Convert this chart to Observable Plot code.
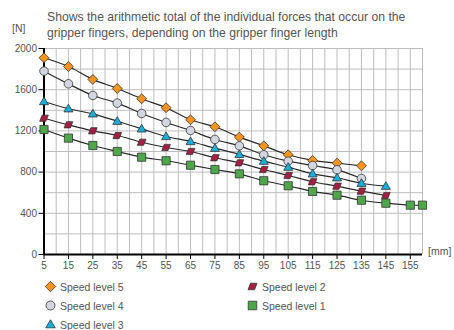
<!DOCTYPE html>
<html>
<head>
<meta charset="utf-8">
<script src="https://cdn.jsdelivr.net/npm/d3@7"></script>
<script src="https://cdn.jsdelivr.net/npm/@observablehq/plot@0.6"></script>
<style>
  body { margin: 0; background: #fff; font-family: "Liberation Sans", Arial, sans-serif; color: #555; }
  #wrap { position: relative; width: 454px; height: 330px; overflow: hidden; }
  #chart { position: absolute; left: 0; top: 0; }
  .t { position: absolute; white-space: nowrap; }
  #title { left: 47px; top: 9px; font-size: 12.2px; line-height: 16px; color: #555; }
  #unitN { left: 12px; top: 22px; font-size: 10.5px; color: #555; }
  #unitMM { left: 428px; top: 245px; font-size: 10.5px; color: #555; }
  .leg { position: absolute; font-size: 10.5px; color: #555; display: flex; align-items: center; white-space: nowrap; }
  .leg svg { margin-right: 3px; }
</style>
</head>
<body>
<div id="wrap">
  <div id="chart"></div>
  <div id="title" class="t">Shows the arithmetic total of the individual forces that occur on the<br>gripper fingers, depending on the gripper finger length</div>
  <div id="unitN" class="t">[N]</div>
  <div id="unitMM" class="t">[mm]</div>
  <div id="legend"></div>
</div>
<script>
// ---- data ----
const lengths5 = [5,15,25,35,45,55,65,75,85,95,105,115,125,135];
const level5 = [1910,1825,1700,1612,1512,1425,1308,1240,1140,1055,968,913,887,861];
const lengths4 = [5,15,25,35,45,55,65,75,85,95,105,115,125,135];
const level4 = [1780,1657,1544,1470,1369,1282,1204,1117,1055,968,906,864,822,738];
const lengths3 = [5,15,25,35,45,55,65,75,85,95,105,115,125,135,145];
const level3 = [1485,1415,1366,1294,1220,1146,1097,1032,972,906,848,783,745,692,663];
const lengths2 = [5,15,25,35,45,55,65,75,85,95,105,115,125,135,145];
const level2 = [1323,1259,1201,1155,1090,1039,1000,939,890,825,767,706,663,615,573];
const lengths1 = [5,15,25,35,45,55,65,75,85,95,105,115,125,135,145,155,160];
const level1 = [1214,1130,1058,1000,945,910,867,825,783,716,667,612,576,527,498,479,479];
const seriesNames = ["Speed level 5","Speed level 4","Speed level 3","Speed level 2","Speed level 1"];
const xTicks = [5,15,25,35,45,55,65,75,85,95,105,115,125,135,145,155];
const yTicks = [0,400,800,1200,1600,2000];

// ---- symbols ----
const symDiamond = {draw(c, size){ const r = Math.sqrt(size/Math.PI)*1.15; c.moveTo(0,-r); c.lineTo(r,0); c.lineTo(0,r); c.lineTo(-r,0); c.closePath(); }};
const symCircle = {draw(c, size){ const r = Math.sqrt(size/Math.PI); c.moveTo(r,0); c.arc(0,0,r,0,2*Math.PI); c.closePath(); }};
const symTriangle = {draw(c, size){ const r = Math.sqrt(size/Math.PI)*1.05; c.moveTo(0,-r); c.lineTo(r,r*0.7); c.lineTo(-r,r*0.7); c.closePath(); }};
const symPara = {draw(c, size){ const r = Math.sqrt(size/Math.PI); const h = r*0.72; c.moveTo(-r*0.45,-h); c.lineTo(r,-h); c.lineTo(r*0.45,h); c.lineTo(-r,h); c.closePath(); }};
const symSquare = {draw(c, size){ const r = Math.sqrt(size/Math.PI)*0.95; c.rect(-r,-r,2*r,2*r); }};

const styles = [
  {name: seriesNames[0], xs: lengths5, ys: level5, fill: "#f7941d", symbol: symDiamond},
  {name: seriesNames[1], xs: lengths4, ys: level4, fill: "#d3d5df", symbol: symCircle},
  {name: seriesNames[2], xs: lengths3, ys: level3, fill: "#17b0dc", symbol: symTriangle},
  {name: seriesNames[3], xs: lengths2, ys: level2, fill: "#a81d42", symbol: symPara},
  {name: seriesNames[4], xs: lengths1, ys: level1, fill: "#4ea84b", symbol: symSquare}
];

const rows = [];
styles.forEach(s => s.xs.forEach((x, i) => rows.push({series: s.name, x, y: s.ys[i]})));

const gridX = d3.range(5, 161, 5);
const gridY = d3.range(0, 2001, 200);

const marks = [
  Plot.ruleX(gridX, {stroke: "#bdbdbd", strokeWidth: 1}),
  Plot.ruleY(gridY, {stroke: "#bdbdbd", strokeWidth: 1}),
  Plot.axisX({ticks: xTicks, tickSize: 5, tickPadding: 2, stroke: "#000", fontSize: 10, fill: "#555", label: null, tickFormat: d => String(d)}),
  Plot.axisY({ticks: yTicks, tickSize: 5, tickPadding: 2, stroke: "#000", fontSize: 10, fill: "#555", label: null, tickFormat: d => String(d)}),
  Plot.ruleX([5], {stroke: "#000", strokeWidth: 2}),
  Plot.ruleY([0], {stroke: "#000", strokeWidth: 2}),
  Plot.line(rows, {x: "x", y: "y", z: "series", stroke: "#2a2a2a", strokeWidth: 1.2, curve: "catmull-rom"})
];
styles.forEach(s => {
  marks.push(Plot.dot(rows.filter(d => d.series === s.name), {x: "x", y: "y", r: 4.3, symbol: () => s.symbol, fill: s.fill, stroke: "#333", strokeWidth: 0.8}));
});

const plot = Plot.plot({
  width: 454,
  height: 330,
  marginTop: 48,
  marginBottom: 76,
  marginLeft: 43.5,
  marginRight: 32,
  style: {fontFamily: "Liberation Sans, Arial, sans-serif", background: "transparent"},
  x: {domain: [5, 160]},
  y: {domain: [0, 2000]},
  symbol: {type: "identity"},
  marks
});
document.getElementById("chart").appendChild(plot);

// ---- legend ----
const legendPos = [
  {left: 44, top: 280}, {left: 44, top: 299}, {left: 44, top: 318},
  {left: 246, top: 280}, {left: 246, top: 299}
];
const legend = document.getElementById("legend");
styles.forEach((s, i) => {
  const div = document.createElement("div");
  div.className = "leg";
  div.style.left = legendPos[i].left + "px";
  div.style.top = legendPos[i].top + "px";
  const path = d3.path();
  s.symbol.draw(path, 4.5*4.5*Math.PI);
  div.innerHTML = `<svg width="13" height="13" viewBox="-6.5 -6.5 13 13"><path d="${path.toString()}" fill="${s.fill}" stroke="#333" stroke-width="0.8"/></svg><span>${s.name}</span>`;
  legend.appendChild(div);
});
</script>
</body>
</html>
